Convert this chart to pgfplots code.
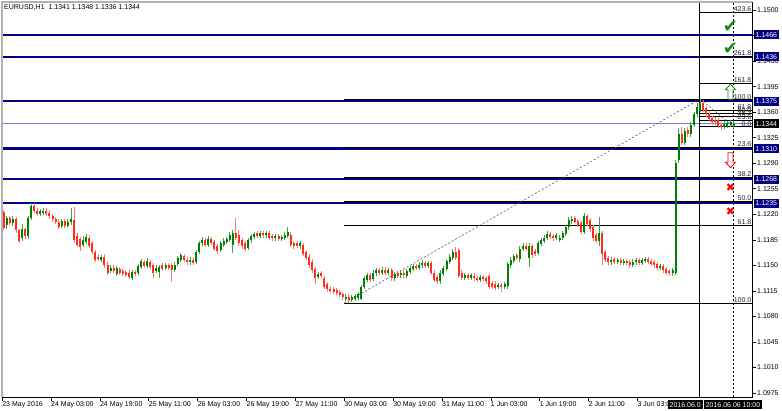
\documentclass[border=0pt]{standalone}
\usepackage{fontspec}
\setmainfont{Liberation Sans}
\newfontfamily\sym{DejaVu Sans}
\usepackage{pgfplots}
\usepackage{pgfplotstable}
\pgfplotsset{compat=1.18}
\definecolor{navyl}{RGB}{0,0,128}
\definecolor{upc}{RGB}{0,128,0}
\definecolor{upw}{RGB}{60,165,60}
\definecolor{dnc}{RGB}{255,45,25}
\definecolor{dnw}{RGB}{255,120,110}
\definecolor{bidc}{RGB}{110,130,210}
\definecolor{fibg}{RGB}{90,90,90}
\definecolor{chk}{RGB}{20,140,20}

\pgfplotstableread{
i o h l c
0 1.1223 1.1226 1.1198 1.1201
1 1.1205 1.1218 1.1200 1.1215
2 1.1215 1.1218 1.1205 1.1208
3 1.1208 1.1217 1.1204 1.1214
4 1.1214 1.1216 1.1195 1.1198
5 1.1198 1.1200 1.1180 1.1183
6 1.1188 1.1207 1.1183 1.1200
7 1.1200 1.1203 1.1186 1.1190
8 1.1190 1.1218 1.1186 1.1215
9 1.1215 1.1236 1.1212 1.1232
10 1.1231 1.1236 1.1222 1.1225
11 1.1225 1.1228 1.1217 1.1220
12 1.1220 1.1227 1.1217 1.1224
13 1.1222 1.1228 1.1219 1.1225
14 1.1225 1.1228 1.1218 1.1221
15 1.1222 1.1226 1.1214 1.1217
16 1.1218 1.1221 1.1210 1.1213
17 1.1214 1.1216 1.1206 1.1209
18 1.1210 1.1213 1.1200 1.1203
19 1.1204 1.1214 1.1201 1.1211
20 1.1211 1.1214 1.1201 1.1204
21 1.1204 1.1213 1.1202 1.1210
22 1.1209 1.1228 1.1206 1.1214
23 1.1212 1.1230 1.1181 1.1184
24 1.1190 1.1194 1.1175 1.1178
25 1.1186 1.1189 1.1170 1.1175
26 1.1178 1.1190 1.1175 1.1185
27 1.1182 1.1193 1.1179 1.1189
28 1.1188 1.1191 1.1174 1.1177
29 1.1180 1.1183 1.1165 1.1168
30 1.1168 1.1171 1.1155 1.1158
31 1.1162 1.1165 1.1156 1.1159
32 1.1158 1.1164 1.1155 1.1161
33 1.1162 1.1165 1.1147 1.1150
34 1.1151 1.1154 1.1137 1.1140
35 1.1142 1.1150 1.1139 1.1147
36 1.1147 1.1150 1.1139 1.1142
37 1.1138 1.1149 1.1135 1.1146
38 1.1145 1.1148 1.1137 1.1140
39 1.1142 1.1145 1.1135 1.1138
40 1.1141 1.1144 1.1134 1.1137
41 1.1140 1.1143 1.1131 1.1134
42 1.1133 1.1144 1.1130 1.1141
43 1.1141 1.1144 1.1135 1.1138
44 1.1139 1.1152 1.1136 1.1149
45 1.1148 1.1159 1.1145 1.1156
46 1.1155 1.1158 1.1146 1.1149
47 1.1149 1.1160 1.1146 1.1156
48 1.1155 1.1158 1.1145 1.1148
49 1.1150 1.1153 1.1132 1.1140
50 1.1142 1.1150 1.1139 1.1147
51 1.1141 1.1151 1.1132 1.1148
52 1.1150 1.1153 1.1142 1.1145
53 1.1146 1.1153 1.1143 1.1150
54 1.1151 1.1153 1.1143 1.1146
55 1.1150 1.1153 1.1127 1.1143
56 1.1144 1.1154 1.1141 1.1151
57 1.1152 1.1163 1.1149 1.1160
58 1.1158 1.1167 1.1155 1.1164
59 1.1163 1.1166 1.1154 1.1157
60 1.1158 1.1161 1.1151 1.1154
61 1.1154 1.1161 1.1151 1.1158
62 1.1158 1.1161 1.1150 1.1153
63 1.1154 1.1171 1.1152 1.1168
64 1.1168 1.1183 1.1165 1.1180
65 1.1180 1.1189 1.1177 1.1185
66 1.1185 1.1188 1.1175 1.1178
67 1.1178 1.1190 1.1175 1.1186
68 1.1186 1.1189 1.1178 1.1181
69 1.1182 1.1185 1.1169 1.1172
70 1.1176 1.1179 1.1166 1.1170
71 1.1171 1.1183 1.1168 1.1180
72 1.1178 1.1187 1.1175 1.1184
73 1.1182 1.1189 1.1179 1.1186
74 1.1185 1.1196 1.1182 1.1192
75 1.1178 1.1199 1.1167 1.1195
76 1.1195 1.1215 1.1185 1.1188
77 1.1192 1.1198 1.1177 1.1180
78 1.1185 1.1188 1.1172 1.1176
79 1.1180 1.1183 1.1170 1.1173
80 1.1174 1.1188 1.1171 1.1185
81 1.1184 1.1193 1.1181 1.1190
82 1.1189 1.1196 1.1186 1.1193
83 1.1194 1.1197 1.1187 1.1190
84 1.1190 1.1197 1.1187 1.1194
85 1.1194 1.1197 1.1188 1.1191
86 1.1191 1.1197 1.1188 1.1194
87 1.1194 1.1197 1.1185 1.1188
88 1.1190 1.1193 1.1184 1.1187
89 1.1187 1.1193 1.1184 1.1190
90 1.1190 1.1193 1.1183 1.1186
91 1.1186 1.1192 1.1183 1.1189
92 1.1188 1.1196 1.1185 1.1192
93 1.1190 1.1203 1.1187 1.1195
94 1.1192 1.1195 1.1175 1.1178
95 1.1180 1.1183 1.1173 1.1176
96 1.1180 1.1183 1.1174 1.1177
97 1.1177 1.1183 1.1172 1.1180
98 1.1178 1.1181 1.1163 1.1166
99 1.1168 1.1171 1.1157 1.1160
100 1.1162 1.1165 1.1147 1.1150
101 1.1155 1.1158 1.1140 1.1143
102 1.1145 1.1148 1.1125 1.1133
103 1.1134 1.1141 1.1131 1.1138
104 1.1140 1.1142 1.1132 1.1135
105 1.1133 1.1136 1.1117 1.1120
106 1.1124 1.1127 1.1114 1.1117
107 1.1118 1.1121 1.1112 1.1115
108 1.1117 1.1120 1.1111 1.1114
109 1.1116 1.1119 1.1109 1.1112
110 1.1113 1.1116 1.1106 1.1109
111 1.1110 1.1113 1.1103 1.1106
112 1.1104 1.1110 1.1101 1.1107
113 1.1107 1.1110 1.1098 1.1102
114 1.1102 1.1109 1.1099 1.1106
115 1.1104 1.1111 1.1101 1.1108
116 1.1105 1.1113 1.1102 1.1110
117 1.1104 1.1123 1.1102 1.1120
118 1.1120 1.1136 1.1117 1.1132
119 1.1130 1.1140 1.1127 1.1137
120 1.1137 1.1140 1.1127 1.1130
121 1.1131 1.1143 1.1128 1.1140
122 1.1139 1.1146 1.1136 1.1143
123 1.1143 1.1146 1.1137 1.1140
124 1.1140 1.1147 1.1137 1.1144
125 1.1144 1.1147 1.1137 1.1140
126 1.1140 1.1146 1.1137 1.1143
127 1.1143 1.1146 1.1129 1.1132
128 1.1132 1.1141 1.1129 1.1138
129 1.1139 1.1142 1.1133 1.1136
130 1.1136 1.1143 1.1133 1.1140
131 1.1140 1.1143 1.1133 1.1136
132 1.1136 1.1145 1.1133 1.1142
133 1.1141 1.1149 1.1138 1.1146
134 1.1145 1.1152 1.1142 1.1149
135 1.1149 1.1152 1.1143 1.1146
136 1.1146 1.1155 1.1143 1.1151
137 1.1150 1.1157 1.1147 1.1153
138 1.1153 1.1156 1.1146 1.1149
139 1.1149 1.1156 1.1146 1.1153
140 1.1153 1.1156 1.1137 1.1140
141 1.1140 1.1143 1.1127 1.1130
142 1.1134 1.1137 1.1125 1.1128
143 1.1128 1.1143 1.1125 1.1140
144 1.1138 1.1149 1.1135 1.1146
145 1.1145 1.1159 1.1142 1.1156
146 1.1155 1.1165 1.1152 1.1162
147 1.1160 1.1172 1.1157 1.1168
148 1.1168 1.1175 1.1157 1.1160
149 1.1171 1.1174 1.1133 1.1136
150 1.1140 1.1143 1.1130 1.1133
151 1.1133 1.1140 1.1130 1.1137
152 1.1137 1.1140 1.1130 1.1133
153 1.1133 1.1139 1.1130 1.1136
154 1.1136 1.1139 1.1129 1.1132
155 1.1133 1.1136 1.1127 1.1130
156 1.1130 1.1137 1.1127 1.1134
157 1.1134 1.1137 1.1128 1.1131
158 1.1132 1.1135 1.1125 1.1128
159 1.1135 1.1138 1.1117 1.1120
160 1.1126 1.1129 1.1118 1.1121
161 1.1125 1.1128 1.1116 1.1119
162 1.1120 1.1126 1.1117 1.1123
163 1.1123 1.1126 1.1113 1.1120
164 1.1120 1.1127 1.1117 1.1124
165 1.1121 1.1155 1.1118 1.1152
166 1.1150 1.1161 1.1146 1.1158
167 1.1156 1.1166 1.1153 1.1163
168 1.1164 1.1167 1.1157 1.1160
169 1.1158 1.1176 1.1155 1.1173
170 1.1172 1.1180 1.1169 1.1177
171 1.1177 1.1180 1.1170 1.1173
172 1.1160 1.1181 1.1147 1.1176
173 1.1176 1.1179 1.1160 1.1164
174 1.1170 1.1173 1.1163 1.1166
175 1.1167 1.1183 1.1164 1.1180
176 1.1179 1.1188 1.1176 1.1184
177 1.1183 1.1192 1.1180 1.1188
178 1.1187 1.1197 1.1184 1.1193
179 1.1193 1.1196 1.1186 1.1189
180 1.1190 1.1193 1.1184 1.1187
181 1.1187 1.1194 1.1184 1.1191
182 1.1185 1.1191 1.1182 1.1188
183 1.1188 1.1197 1.1185 1.1194
184 1.1193 1.1205 1.1190 1.1202
185 1.1202 1.1216 1.1199 1.1212
186 1.1211 1.1217 1.1207 1.1214
187 1.1215 1.1218 1.1208 1.1210
188 1.1211 1.1214 1.1202 1.1205
189 1.1208 1.1211 1.1193 1.1196
190 1.1196 1.1222 1.1193 1.1218
191 1.1218 1.1221 1.1204 1.1207
192 1.1212 1.1215 1.1196 1.1200
193 1.1203 1.1206 1.1184 1.1188
194 1.1192 1.1195 1.1181 1.1184
195 1.1184 1.1216 1.1176 1.1195
196 1.1194 1.1197 1.1151 1.1166
197 1.1168 1.1171 1.1154 1.1157
198 1.1160 1.1163 1.1151 1.1154
199 1.1154 1.1161 1.1151 1.1158
200 1.1158 1.1161 1.1152 1.1155
201 1.1155 1.1160 1.1152 1.1157
202 1.1157 1.1160 1.1150 1.1153
203 1.1153 1.1159 1.1150 1.1156
204 1.1156 1.1159 1.1150 1.1153
205 1.1154 1.1157 1.1147 1.1150
206 1.1150 1.1158 1.1147 1.1155
207 1.1154 1.1160 1.1151 1.1157
208 1.1157 1.1160 1.1150 1.1153
209 1.1153 1.1160 1.1150 1.1157
210 1.1156 1.1162 1.1153 1.1159
211 1.1159 1.1162 1.1152 1.1155
212 1.1156 1.1159 1.1149 1.1152
213 1.1154 1.1157 1.1147 1.1150
214 1.1152 1.1155 1.1143 1.1146
215 1.1146 1.1152 1.1143 1.1149
216 1.1149 1.1152 1.1140 1.1143
217 1.1145 1.1148 1.1136 1.1140
218 1.1142 1.1145 1.1135 1.1139
219 1.1139 1.1147 1.1136 1.1143
220 1.1140 1.1295 1.1137 1.1290
221 1.1295 1.1338 1.1290 1.1330
222 1.1330 1.1340 1.1315 1.1318
223 1.1318 1.1338 1.1315 1.1334
224 1.1335 1.1340 1.1326 1.1330
225 1.1330 1.1347 1.1326 1.1343
226 1.1343 1.1360 1.1340 1.1357
227 1.1357 1.1372 1.1354 1.1367
228 1.1362 1.1378 1.1360 1.1372
229 1.1372 1.1377 1.1360 1.1363
230 1.1366 1.1369 1.1354 1.1357
231 1.1358 1.1362 1.1347 1.1350
232 1.1352 1.1355 1.1343 1.1346
233 1.1349 1.1353 1.1343 1.1346
234 1.1349 1.1352 1.1338 1.1341
235 1.1343 1.1346 1.1336 1.1340
236 1.1340 1.1348 1.1337 1.1344
237 1.1341 1.1348 1.1338 1.1345
238 1.1342 1.1349 1.1339 1.1346
239 1.1341 1.1348 1.1336 1.1344
}\bars

\begin{document}
\begin{tikzpicture}[font=\fontsize{7bp}{8.4bp}\selectfont]
\path[use as bounding box, fill=white] (0,0) rectangle (782bp,411bp);
\begin{axis}[
  at={(2bp,14bp)}, anchor=south west,
  scale only axis, width=750bp, height=395bp,
  xmin=-0.55, xmax=245.03, ymin=1.09694, ymax=1.15110,
  clip=false,
  axis line style={line width=0.7bp, black},
  tick align=outside, major tick length=3.5bp,
  tick style={black, line width=0.5bp},
  xtick pos=bottom, ytick pos=right, yticklabel pos=right,
  scaled y ticks=false,
  /pgf/number format/assume math mode=true,
  tick label style={font=\fontsize{7bp}{8.4bp}\selectfont, black},
  yticklabel style={anchor=west, inner sep=0pt, xshift=1.5bp,
    /pgf/number format/fixed, /pgf/number format/fixed zerofill,
    /pgf/number format/precision=4},
  xticklabel style={anchor=north west, inner sep=0pt, yshift=-0.5bp},
  ytick={1.0975,1.1010,1.1045,1.1080,1.1115,1.1150,1.1185,1.1220,1.1255,1.1290,1.1325,1.1360,1.1395,1.1430,1.1465,1.1500},
  xtick={-0.5,15.5,31.5,47.5,63.5,79.5,95.5,111.5,127.5,143.5,159.5,175.5,191.5,207.5},
  xticklabels={23 May 2016,24 May 03:00,24 May 19:00,25 May 11:00,26 May 03:00,26 May 19:00,27 May 11:00,30 May 03:00,30 May 19:00,31 May 11:00,1 Jun 03:00,1 Jun 19:00,2 Jun 11:00,3 Jun 03:00},
  candle/.style={draw=none, mark=none, forget plot, unbounded coords=discard,
    error bars/.cd, y dir=both, y explicit, error mark=none},
]
% level lines (navy)
\addplot[navyl, line width=2.3bp, forget plot] coordinates {(-0.55,1.1466) (245.03,1.1466)};
\addplot[navyl, line width=2.3bp, forget plot] coordinates {(-0.55,1.1436) (245.03,1.1436)};
\addplot[navyl, line width=2.3bp, forget plot] coordinates {(-0.55,1.1375) (245.03,1.1375)};
\addplot[navyl, line width=2.3bp, forget plot] coordinates {(-0.55,1.1310) (245.03,1.1310)};
\addplot[navyl, line width=2.3bp, forget plot] coordinates {(-0.55,1.1268) (245.03,1.1268)};
\addplot[navyl, line width=2.3bp, forget plot] coordinates {(-0.55,1.1235) (245.03,1.1235)};
% bid line
\addplot[bidc, line width=0.6bp, forget plot] coordinates {(-0.55,1.1344) (245.03,1.1344)};
% fib 1 levels
\addplot[black, line width=0.6bp, forget plot] coordinates {(111.5,1.1378) (245.03,1.1378)};
\addplot[black, line width=0.6bp, forget plot] coordinates {(111.5,1.13119) (245.03,1.13119)};
\addplot[black, line width=0.6bp, forget plot] coordinates {(111.5,1.12710) (245.03,1.12710)};
\addplot[black, line width=0.6bp, forget plot] coordinates {(111.5,1.12380) (245.03,1.12380)};
\addplot[black, line width=0.6bp, forget plot] coordinates {(111.5,1.12050) (245.03,1.12050)};
\addplot[black, line width=0.6bp, forget plot] coordinates {(111.5,1.10980) (245.03,1.10980)};
\addplot[fibg, line width=0.6bp, dash pattern=on 2bp off 2bp, forget plot] coordinates {(111.5,1.1098) (228,1.1378)};
% fib 2 levels
\addplot[black, line width=0.6bp, forget plot] coordinates {(227.6,1.1340) (245.03,1.1340)};
\addplot[black, line width=0.6bp, forget plot] coordinates {(227.6,1.13487) (245.03,1.13487)};
\addplot[black, line width=0.6bp, forget plot] coordinates {(227.6,1.13541) (245.03,1.13541)};
\addplot[black, line width=0.6bp, forget plot] coordinates {(227.6,1.13585) (245.03,1.13585)};
\addplot[black, line width=0.6bp, forget plot] coordinates {(227.6,1.13629) (245.03,1.13629)};
\addplot[black, line width=0.6bp, forget plot] coordinates {(227.6,1.13770) (245.03,1.13770)};
\addplot[black, line width=0.6bp, forget plot] coordinates {(227.6,1.13999) (245.03,1.13999)};
\addplot[black, line width=0.6bp, forget plot] coordinates {(227.6,1.14369) (245.03,1.14369)};
\addplot[black, line width=0.6bp, forget plot] coordinates {(227.6,1.14967) (245.03,1.14967)};
\addplot[fibg, line width=0.6bp, dash pattern=on 2bp off 2bp, forget plot] coordinates {(228,1.1378) (239,1.1340)};
% vertical lines
\addplot[black, line width=1bp, forget plot] coordinates {(228,1.09694) (228,1.15110)};
\addplot[black, line width=0.6bp, dash pattern=on 2bp off 2bp, forget plot] coordinates {(239,1.09694) (239,1.15110)};
% candles: wicks
\addplot[candle, error bar style={draw=upw, solid, line width=0.7bp}]
  table[x=i, y expr={\thisrow{c}>\thisrow{o} ? (\thisrow{h}+\thisrow{l})/2 : nan},
        y error expr={(\thisrow{h}-\thisrow{l})/2}] {\bars};
\addplot[candle, error bar style={draw=dnw, solid, line width=0.7bp}]
  table[x=i, y expr={\thisrow{c}>\thisrow{o} ? nan : (\thisrow{h}+\thisrow{l})/2},
        y error expr={(\thisrow{h}-\thisrow{l})/2}] {\bars};
% candles: bodies
\addplot[candle, error bar style={draw=upc, solid, line width=2bp}]
  table[x=i, y expr={\thisrow{c}>\thisrow{o} ? (\thisrow{o}+\thisrow{c})/2 : nan},
        y error expr={max(abs(\thisrow{c}-\thisrow{o})/2,0.00004)}] {\bars};
\addplot[candle, error bar style={draw=dnc, solid, line width=2bp}]
  table[x=i, y expr={\thisrow{c}>\thisrow{o} ? nan : (\thisrow{o}+\thisrow{c})/2},
        y error expr={max(abs(\thisrow{c}-\thisrow{o})/2,0.00004)}] {\bars};
% fib labels
\begin{scope}[every node/.style={anchor=south east, inner sep=0.4bp, text=black!85}]
\node at (axis cs:245.0,1.14967) {423.6};
\node at (axis cs:245.0,1.14369) {261.8};
\node at (axis cs:245.0,1.13999) {161.8};
\node at (axis cs:245.0,1.13770) {100.0};
\node at (axis cs:245.0,1.13629) {61.8};
\node at (axis cs:245.0,1.13585) {50.0};
\node at (axis cs:245.0,1.13541) {38.2};
\node at (axis cs:245.0,1.13487) {23.6};
\node at (axis cs:245.0,1.13400) {0.0};
\node at (axis cs:245.0,1.13119) {23.6};
\node at (axis cs:245.0,1.12710) {38.2};
\node at (axis cs:245.0,1.12380) {50.0};
\node at (axis cs:245.0,1.12050) {61.8};
\node at (axis cs:245.0,1.10980) {100.0};
\end{scope}
% arrow objects
\node[text=chk, font=\sym\fontsize{18bp}{18bp}\selectfont, inner sep=0pt] at (axis cs:238,1.1477) {✔};
\node[text=chk, font=\sym\fontsize{18bp}{18bp}\selectfont, inner sep=0pt] at (axis cs:238,1.1447) {✔};
\draw[chk, line width=0.9bp, fill=white] (axis cs:238,1.1388)
  ++(0bp,7.5bp) -- ++(5bp,-5.5bp) -- ++(-2.5bp,0bp) -- ++(0bp,-9.5bp) -- ++(-5bp,0bp)
  -- ++(0bp,9.5bp) -- ++(-2.5bp,0bp) -- cycle;
\draw[red, line width=0.9bp, fill=white] (axis cs:238,1.1294)
  ++(0bp,-7.5bp) -- ++(5bp,5.5bp) -- ++(-2.5bp,0bp) -- ++(0bp,9.5bp) -- ++(-5bp,0bp)
  -- ++(0bp,-9.5bp) -- ++(-2.5bp,0bp) -- cycle;
\node[text=red, font=\sym\fontsize{11bp}{11bp}\selectfont, inner sep=0pt] at (axis cs:238,1.1257) {✖};
\node[text=red, font=\sym\fontsize{11bp}{11bp}\selectfont, inner sep=0pt] at (axis cs:238,1.1224) {✖};
% frame overlay
\draw[gray!60, line width=1.2bp] (rel axis cs:0,0) -- (rel axis cs:0,1) -- (rel axis cs:1,1);
% anchor coordinates for price boxes
\coordinate (p1466) at (axis cs:245.03,1.1466);
\coordinate (p1436) at (axis cs:245.03,1.1436);
\coordinate (p1375) at (axis cs:245.03,1.1375);
\coordinate (p1344) at (axis cs:245.03,1.1344);
\coordinate (p1310) at (axis cs:245.03,1.1310);
\coordinate (p1268) at (axis cs:245.03,1.1268);
\coordinate (p1235) at (axis cs:245.03,1.1235);
\end{axis}
\begin{scope}[every node/.style={anchor=west, text=white, inner xsep=2bp, inner ysep=2bp, text height=5.2bp, text depth=0pt, xshift=1.5bp}]
\node[fill=navyl] at (p1466) {1.1466};
\node[fill=navyl] at (p1436) {1.1436};
\node[fill=navyl] at (p1375) {1.1375};
\node[fill=black] at (p1344) {1.1344};
\node[fill=navyl] at (p1310) {1.1310};
\node[fill=navyl] at (p1268) {1.1268};
\node[fill=navyl] at (p1235) {1.1235};
\end{scope}
% title
\node[anchor=west, inner sep=0pt] at (4bp,403bp) {EURUSD,H1\ \ 1.1341 1.1348 1.1336 1.1344};
% time boxes
\node[anchor=east, fill=black, text=white, inner xsep=2bp, inner ysep=1.5bp, text height=5.2bp, text depth=0pt] at (703bp,6.5bp) {2016.06.0};
\node[fill=black, text=white, inner xsep=2bp, inner ysep=1.5bp, text height=5.2bp, text depth=0pt] at (733bp,6.5bp) {2016.06.06 10:00};
\end{tikzpicture}
\end{document}
